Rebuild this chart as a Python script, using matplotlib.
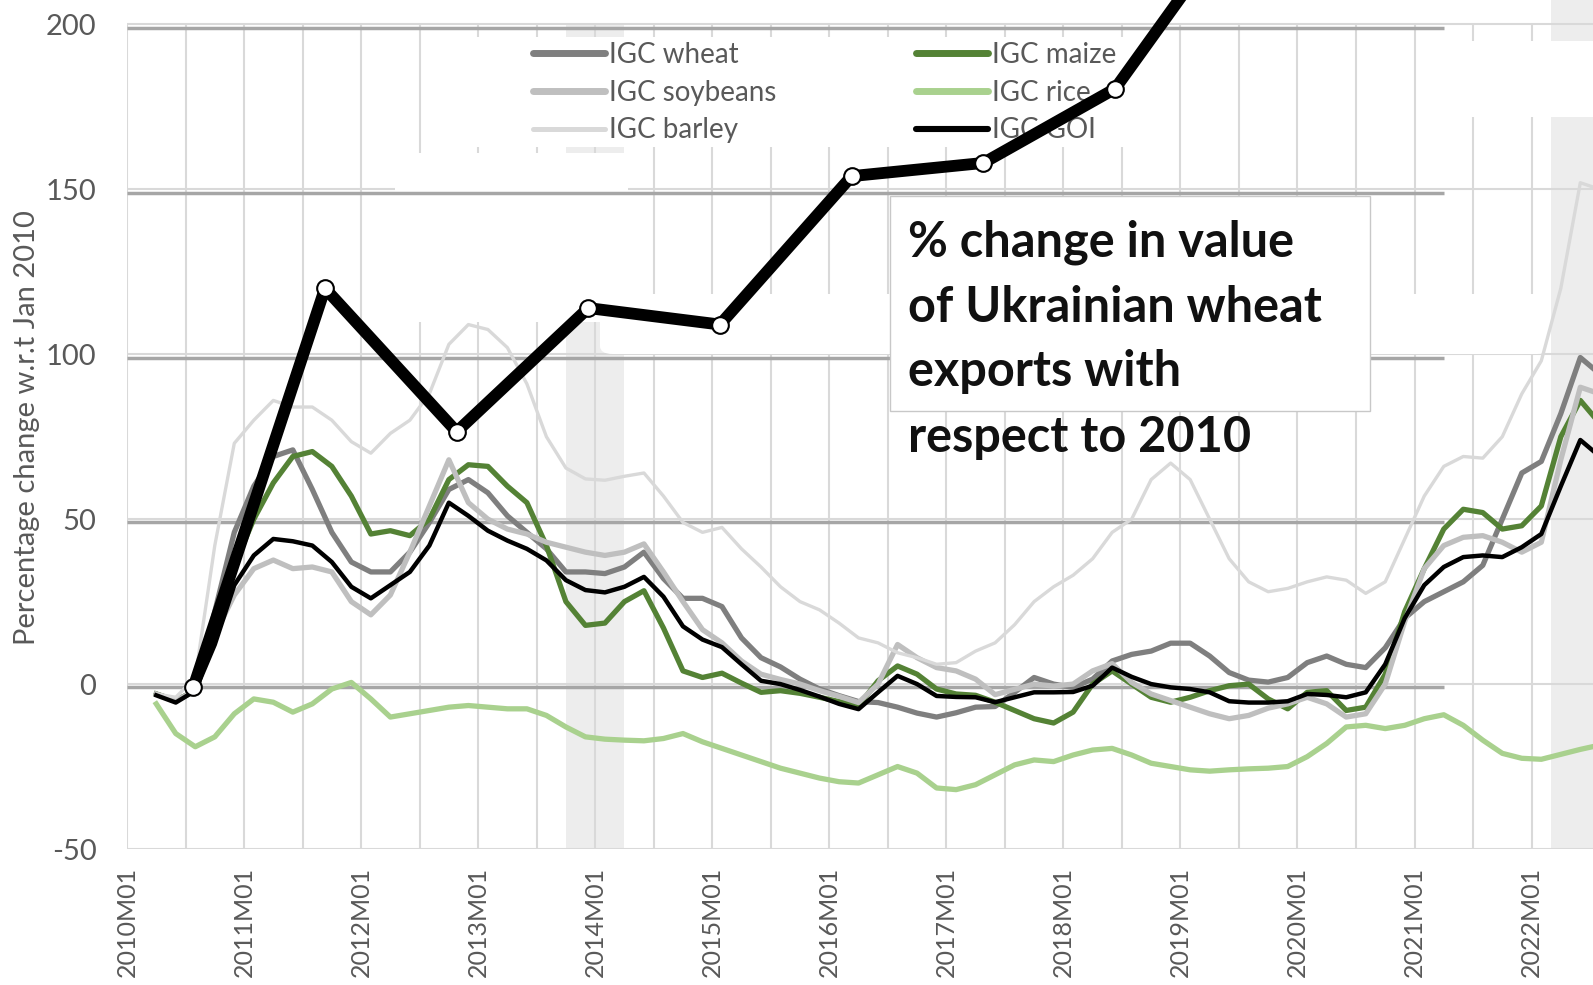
import numpy as np
import matplotlib.pyplot as plt
from matplotlib.patches import Rectangle, FancyBboxPatch
from matplotlib.lines import Line2D

plt.rcParams['font.family'] = ['Lato', 'DejaVu Sans']

W, H = 1593, 985

# months counted from 2010M01, every second month from 2010M04
months = np.arange(3, 152, 2)

wheat = [-3, -5, -2, 22, 46, 60, 69, 71, 59, 46,
         37, 34, 34, 40, 49, 59, 62, 58, 51, 46,
         41, 34, 34, 33.5, 35.5, 40, 32, 26, 26, 23.5,
         14, 8, 5.2, 1.5, -1.5, -3.5, -5.3, -5.6, -7, -8.8,
         -10, -8.7, -7, -6.8, -2.5, 2, 0, -1, 1.5, 7,
         9, 10, 12.4, 12.4, 8.5, 3.5, 1.2, 0.6, 2, 6.5,
         8.5, 6, 5, 11, 20, 25, 28, 31, 36, 50,
         64, 67.5, 82, 99, 94]
maize = [-3, -5, -2, 15, 36, 50, 61, 69, 70.5, 66,
         57, 45.5, 46.5, 45, 50, 62, 66.5, 66, 60, 55,
         42, 25, 17.8, 18.5, 25, 28.3, 17, 4, 2, 3.3,
         0.3, -2.5, -2, -2.8, -4, -5.3, -6.6, 1, 5.5, 3,
         -1.5, -3, -3.4, -5.5, -8, -10.5, -11.8, -8.5, 0, 4,
         0, -4, -5.5, -4, -2, -0.5, 0, -4.5, -7.5, -2.5,
         -2, -8, -7, 3, 22, 35, 47, 53, 52, 47,
         48, 54, 75, 86, 79]
soybeans = [-3, -5, -2, 15, 27, 35, 37.6, 35, 35.5, 34,
            25, 21, 27, 40, 54, 68, 55, 50, 47, 45.5,
            43, 41.5, 40, 39, 40, 42.5, 34, 25, 16.5, 12.5,
            7, 3, 1.4, 0, -2, -3.7, -5.6, 0, 12, 8,
            5, 4, 1.5, -3.2, -1.6, 0, -0.6, 0, 4, 6.2,
            0.5, -3, -5, -7, -9, -10.5, -9.5, -7.3, -6, -4,
            -6, -10, -9, 0, 19, 35, 42, 44.5, 45, 43,
            40, 43, 68, 90, 88]
rice = [-6, -15, -19, -16, -9, -4.5, -5.5, -8.5, -6, -1.5,
        0.5, -4.5, -10, -9, -8, -7, -6.5, -7, -7.5, -7.5,
        -9.5, -13, -16, -16.7, -17, -17.2, -16.5, -15, -17.5, -19.5,
        -21.5, -23.5, -25.5, -27, -28.5, -29.6, -30, -27.5, -25, -27,
        -31.5, -32, -30.5, -27.5, -24.5, -23, -23.5, -21.5, -20, -19.5,
        -21.5, -24, -25, -26, -26.4, -26, -25.7, -25.5, -25, -22,
        -18, -13, -12.5, -13.5, -12.5, -10.5, -9.3, -12.5, -17, -21,
        -22.5, -22.8, -21.3, -19.8, -18.5]
barley = [-3, -4, 2, 42, 73, 80, 86, 84, 84, 80,
          73.5, 70, 76, 80, 88, 103, 109, 107.5, 102, 91,
          75, 65.5, 62.2, 61.8, 63, 64, 57, 49, 46, 47.5,
          41, 35.5, 29.5, 25, 22.5, 18.5, 14, 12.5, 9.5, 8,
          6, 6.5, 10, 12.5, 18, 25, 29.5, 33, 38, 46,
          50, 62, 67, 62, 50, 38, 31, 28, 29, 31,
          32.5, 31.5, 27.5, 31, 44, 57, 66, 69, 68.5, 75,
          88, 98, 120, 152, 150]
goi = [-3.4, -5.6, -2, 12, 30, 39, 44, 43.3, 42, 37,
       29.5, 26, 30, 34, 42, 55, 51, 46.5, 43.5, 41,
       37.5, 31.5, 28.5, 27.8, 29.5, 32.5, 26.5, 17.5, 13.5, 11.2,
       6, 1, 0, -1.8, -3.8, -6, -7.6, -2.5, 2.5, 0,
       -3.6, -3.9, -4, -5.5, -4, -2.5, -2.5, -2.4, -0.5, 5,
       2.2, 0, -1, -1.5, -2.5, -5.2, -5.6, -5.6, -5.2, -3,
       -3.3, -4, -2.5, 6, 20, 30, 35.5, 38.5, 39, 38.5,
       41.5, 45.5, 60, 74, 69]

# overlaid yearly series: % change in value of Ukrainian wheat exports
uk_years = [2010, 2011, 2012, 2013, 2014, 2015, 2016, 2017, 2018]
uk_wheat = [-1, 120, 76.5, 114, 109, 154, 158, 180.5, 236]

tick_years = list(range(2010, 2023))
tick_labels = [f"{y}M01" for y in tick_years]
# shaded periods (start month, end month, top of band)
shaded = [(45, 51, 200), (146, 153, 207.4)]

box_lines = ["% change in value", "of Ukrainian wheat", "exports with", "respect to 2010"]


def fig_xy(x, y):
    return x / W, 1 - y / H


fig = plt.figure(figsize=(W / 100, H / 100), dpi=100)
ax = fig.add_axes([127 / W, 1 - 849 / H, 1 - 127 / W, 849 / H])
ax.set_xlim(0, 150.3)
ax.set_ylim(-50, 207.4)

# IGC chart grid
for a, b, top in shaded:
    ax.fill_between([a, b], -50, top, color='#ededed', lw=0, zorder=0.3)
ax.vlines(np.arange(0, 150, 6), -50, 200, color='#d9d9d9', lw=1.5, zorder=0.5)
ax.hlines(np.arange(-50, 201, 50), 0, 151, color='#d9d9d9', lw=1.5, zorder=0.5)

# white patches left by the overlaid picture
for x0, y0, x1, y1 in [(395, 153, 628, 322), (450, 37, 1150, 147), (1443, 41, 1593, 117)]:
    fx, fy = fig_xy(x0, y1)
    ax.add_patch(Rectangle((fx, fy), (x1 - x0) / W, (y1 - y0) / H, transform=fig.transFigure,
                           facecolor='white', edgecolor='none', zorder=0.8))
fx, fy = fig_xy(600, 354)
ax.add_patch(FancyBboxPatch((fx, fy), 950 / W, 60 / H, boxstyle='round,pad=0,rounding_size=0.008',
                            transform=fig.transFigure, facecolor='white', edgecolor='none', zorder=0.8))
# overlay chart gridlines
ax.hlines(np.arange(0, 201, 50) - 1, 0, 135, color='#a6a6a6', lw=2.5, zorder=1)

series = [("IGC wheat", wheat, '#7f7f7f', 3.8),
          ("IGC maize", maize, '#548235', 3.8),
          ("IGC soybeans", soybeans, '#bfbfbf', 3.8),
          ("IGC rice", rice, '#a9d18e', 3.8),
          ("IGC barley", barley, '#d9d9d9', 2.4),
          ("IGC GOI", goi, '#000000', 3.2)]
handles = {}
for name, vals, col, lw in series:
    ax.plot(months, vals, color=col, lw=lw, zorder=2, solid_joinstyle='round')
    handles[name] = Line2D([], [], color=col, lw=lw + 1.2, solid_capstyle='round')

order = ["IGC wheat", "IGC soybeans", "IGC barley", "IGC maize", "IGC rice", "IGC GOI"]
leg = ax.legend([handles[n] for n in order], order, ncol=2, loc='upper left',
                bbox_to_anchor=fig_xy(533, 42), bbox_transform=fig.transFigure,
                frameon=False, fontsize=20, labelcolor='#595959', borderpad=0,
                borderaxespad=0, handlelength=2.6, handletextpad=0.15,
                columnspacing=5.0, labelspacing=0.42)
leg.set_zorder(3)

uk_x = 6.8 + 13.5 * (np.array(uk_years) - 2010)
ax.plot(uk_x, uk_wheat, color='black', lw=8.5, marker='o', ms=12, mfc='white',
        mec='black', mew=1.5, zorder=6, solid_joinstyle='round')

# text box
fx, fy = fig_xy(890, 411)
ax.add_patch(Rectangle((fx, fy), 480 / W, 215 / H, transform=fig.transFigure,
                       facecolor='white', edgecolor='#c8c8c8', lw=1, zorder=7))
for i, line in enumerate(box_lines):
    tx, ty = fig_xy(908, 242 + 65 * i)
    fig.text(tx, ty, line, fontsize=35, fontweight='bold', color='#111111',
             va='center', ha='left', zorder=8)

for s in ax.spines.values():
    s.set_visible(False)
ax.set_xticks([12 * (y - 2010) for y in tick_years])
ax.set_xticklabels(tick_labels, rotation=90, fontsize=18, color='#595959')
ax.set_yticks(np.arange(-50, 201, 50))
ax.set_yticklabels([str(v) for v in range(-50, 201, 50)], fontsize=21, color='#595959')
ax.tick_params(axis='both', length=0)
ax.tick_params(axis='x', pad=13)
ax.tick_params(axis='y', pad=22)

tx, ty = fig_xy(27, 428)
fig.text(tx, ty, "Percentage change w.r.t Jan 2010", rotation=90, fontsize=21,
         color='#595959', ha='center', va='center')

fig.savefig('out.png', dpi=100)
